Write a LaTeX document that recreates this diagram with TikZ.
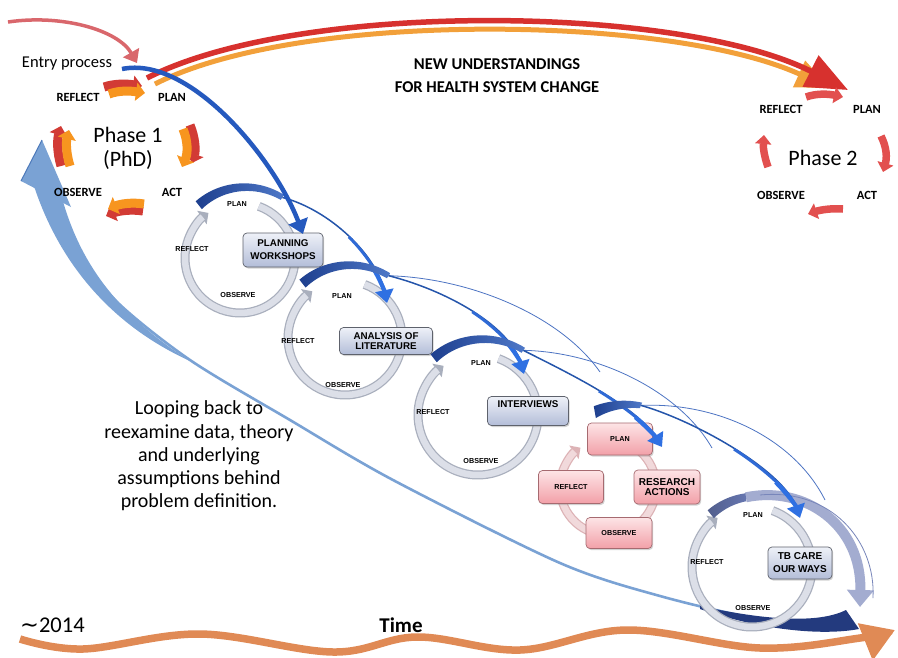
\documentclass[tikz,border=0pt]{standalone}
\usepackage{fontspec}
\setmainfont{Carlito}
\newfontfamily\lsans{Liberation Sans}
\newfontfamily\dejavu{DejaVu Sans}
\usetikzlibrary{arrows.meta,calc,shadows}
\definecolor{ringd}{HTML}{A9AFBD}
\definecolor{ringl}{HTML}{DCDFE8}
\definecolor{boxtop}{HTML}{EEF1F8}
\definecolor{boxbot}{HTML}{B3BDD8}
\definecolor{boxedge}{HTML}{5E626C}
\definecolor{ptop}{HTML}{FDE4E6}
\definecolor{pbot}{HTML}{F2A0A8}
\definecolor{pedge}{HTML}{A66A70}
\definecolor{pringd}{HTML}{DDB3B6}
\definecolor{pringl}{HTML}{F1D9DB}
\definecolor{swd}{HTML}{1E3F8E}
\definecolor{swl}{HTML}{4E78C8}
\definecolor{shaftc}{HTML}{2F6AD6}
\definecolor{thinb}{HTML}{2E5BB8}
\definecolor{headb}{HTML}{2F70E2}
\definecolor{loopb}{HTML}{7AA2D4}
\definecolor{loopd}{HTML}{4C79BA}
\definecolor{navyb}{HTML}{233A7E}
\definecolor{wavec}{HTML}{E08A55}
\definecolor{arcred}{HTML}{D7312E}
\definecolor{arcorg}{HTML}{F2A03A}
\definecolor{porg}{HTML}{F7951F}
\definecolor{pred}{HTML}{D23B35}
\definecolor{ptwored}{HTML}{E2504F}
\definecolor{entr}{HTML}{D9676C}
\definecolor{tbrib}{HTML}{A3ACD0}
\definecolor{tbsw}{HTML}{6676B0}
\definecolor{eblue}{HTML}{2559BE}

% ring of a cycle: cx cy r dark light
\newcommand\cycring[5]{%
  \draw[#4, line width=9pt, -{Triangle[length=8pt,width=16pt]}] (#1,#2) ++(-70:#3) arc[start angle=-70, end angle=235, radius=#3];
  \draw[#5, line width=6.5pt, shorten >=7pt] (#1,#2) ++(-70:#3) arc[start angle=-70, end angle=235, radius=#3];
}
% swoosh: cx cy a1 a2 ri1 ro1 ri2 ro2
\newcommand\swoosh[8]{%
  \shade[sw]
   plot[domain=#3:#4, samples=24] ({#1+(#6+(#8-#6)*(#3-\x)/(#3-#4))*cos(\x)}, {#2-(#6+(#8-#6)*(#3-\x)/(#3-#4))*sin(\x)})
   -- plot[domain=#4:#3, samples=24] ({#1+(#5+(#7-#5)*(#3-\x)/(#3-#4))*cos(\x)}, {#2-(#5+(#7-#5)*(#3-\x)/(#3-#4))*sin(\x)})
   -- cycle;
}
% tapered shaft with arrow head: A B C D
\newcommand\shaftarrow[4]{%
  \draw[shaftc!80!black, line width=1.5pt, shorten >=10pt] #1 .. controls #2 and #3 .. #4;
  \path ($#1!0.5!#2$) coordinate (q1) ($#2!0.5!#3$) coordinate (q2) ($#3!0.5!#4$) coordinate (q3);
  \path ($(q1)!0.5!(q2)$) coordinate (q4) ($(q2)!0.5!(q3)$) coordinate (q5);
  \path ($(q4)!0.5!(q5)$) coordinate (q6);
  \draw[shaftc, line width=2.8pt, shorten >=10pt] (q6) .. controls (q5) and (q3) .. #4;
  \path ($(q6)!0.5!(q5)$) coordinate (r1) ($(q5)!0.5!(q3)$) coordinate (r2) ($(q3)!0.5!#4$) coordinate (r3);
  \path ($(r1)!0.5!(r2)$) coordinate (r4) ($(r2)!0.5!(r3)$) coordinate (r5);
  \path ($(r4)!0.5!(r5)$) coordinate (r6);
  \draw[headb, line width=4.2pt, -{Triangle[length=13pt,width=18pt]}] (r6) .. controls (r5) and (r3) .. #4;
}

\begin{document}
\begin{tikzpicture}[x=1pt,y=-1pt,
  sw/.style={left color=swd, right color=swl},
  clab/.style={font=\lsans\bfseries\fontsize{7.2}{8}\selectfont, inner sep=0pt},
  plab/.style={font=\bfseries\fontsize{12.5}{14}\selectfont, inner sep=0pt},
  bbox/.style={draw=boxedge, line width=0.7pt, rounded corners=4pt, top color=boxtop, bottom color=boxbot, align=center, inner sep=0pt, font=\lsans\bfseries\fontsize{9.8}{13}\selectfont, drop shadow={shadow xshift=1.2pt, shadow yshift=-1.5pt, opacity=0.35}},
  pbox/.style={bbox, draw=pedge, top color=ptop, bottom color=pbot},
  blk/.style={line width=9pt, -{Triangle[length=9pt,width=18pt]}},
  blktwo/.style={ptwored, line width=7.5pt, -{Triangle[length=9pt,width=16pt]}},
  outerl/.style={thinb!85, line width=0.8pt},
]
\fill[white] (0,0) rectangle (898,657);
\useasboundingbox (0,0) rectangle (898,657);

% ---------- time wave
\draw[wavec, line width=7.5pt, -{Triangle[length=32pt,width=38pt]}] plot[smooth, tension=0.6] coordinates {(20,639) (83,649) (200,634) (333,652) (417,637) (520,650) (627,630) (760,648) (860,638) (895,630)};

% ---------- loop back arrow
\draw[loopb, line width=2.6pt] plot[smooth] coordinates {(46,192) (75,245) (115,300) (190,360) (290,420) (393,480) (560,563) (660,596) (760,619) (852,628)};
\fill[loopb] (34,186) .. controls (55,250) and (100,320) .. (190,361) .. controls (110,310) and (78,255) .. (62,198) -- cycle;
\fill[loopb] (42,140) -- (21,181) -- (71,207) -- cycle;
\draw[loopd, line width=1pt] (42,140) -- (21,181);
\fill[navyb] (700,606) .. controls (765,620) and (818,624) .. (846,610) -- (859,629) .. controls (822,636) and (760,630) .. (700,609) -- cycle;

% ---------- big arc to phase 2
\draw[arcorg, line width=5pt, -{Triangle[length=34pt,width=28pt]}] (155,84) .. controls (300,10) and (670,15) .. (830,88);
\draw[arcred, line width=5.5pt, -{Triangle[length=42pt,width=34pt]}] (147,78) .. controls (300,0) and (680,5) .. (848,90);

% ---------- entry arrow
\coordinate (entrystart) at (8,22);
\coordinate (entryend) at (137,63);
\draw[entr, line width=3.5pt, -{Triangle[length=12pt,width=18pt]}] (entrystart) .. controls (62,14) and (118,30) .. (entryend);

% ---------- phase 1 block arrows
\draw[blk, pred] (104,87) .. controls (116,83) and (128,84) .. (142,86);
\draw[blk, porg] (109,94) .. controls (120,90) and (131,91) .. (145,93);
\draw[blk, pred] (190,125) .. controls (195,137) and (196,150) .. (192,163);
\draw[blk, porg] (183,129) .. controls (188,141) and (188,153) .. (182,167);
\draw[blk, pred] (143,211) .. controls (131,209) and (118,211) .. (106,216);
\draw[blk, porg] (144,204) .. controls (132,202) and (120,204) .. (108,209);
\draw[blk, pred] (61,166) .. controls (57,152) and (57,140) .. (61,126);
\draw[blk, porg] (70,166) .. controls (66,153) and (66,142) .. (69,130);

% ---------- phase 2 block arrows
\draw[blktwo] (806,97) .. controls (817,93) and (829,94) .. (843,97);
\draw[blktwo] (881,136) .. controls (887,148) and (887,158) .. (883,172);
\draw[blktwo] (843,209) .. controls (832,208) and (820,210) .. (808,214);
\draw[blktwo] (768,167) .. controls (764,156) and (763,146) .. (764,135);

% ---------- rings
\cycring{240}{258}{55}{ringd}{ringl}
\cycring{345}{338}{57}{ringd}{ringl}
\cycring{478}{415}{60}{ringd}{ringl}
\cycring{608}{487}{48}{pringd}{pringl}
\cycring{752}{567}{60}{ringd}{ringl}

% ---------- boxes
\node[bbox, minimum width=80pt, minimum height=34pt] (pw) at (283,250) {PLANNING\\WORKSHOPS};
\node[bbox, minimum width=93pt, minimum height=27pt, font=\lsans\bfseries\fontsize{9.8}{10.5}\selectfont] (an) at (386,341) {ANALYSIS OF\\LITERATURE};
\node[bbox, minimum width=81pt, minimum height=29pt] (iv) at (528,411) {INTERVIEWS\vphantom{g}\\[-3pt]\strut};
\node[pbox, minimum width=65pt, minimum height=32pt, font=\lsans\bfseries\fontsize{7.2}{8}\selectfont] (rplan) at (620,439) {PLAN};
\node[pbox, minimum width=66pt, minimum height=34pt, font=\lsans\bfseries\fontsize{10}{10.5}\selectfont] (ract) at (667,487) {RESEARCH\\ACTIONS};
\node[pbox, minimum width=65pt, minimum height=33pt, font=\lsans\bfseries\fontsize{7.2}{8}\selectfont] (rrefl) at (571,487) {REFLECT};
\node[pbox, minimum width=66pt, minimum height=31pt, font=\lsans\bfseries\fontsize{7.2}{8}\selectfont] (robs) at (619,533) {OBSERVE};
\node[bbox, minimum width=64pt, minimum height=32pt, font=\lsans\bfseries\fontsize{10}{13}\selectfont] (tb) at (800,563) {TB CARE\\OUR WAYS};

% ---------- cycle labels
\node[clab] (c1p) at (237,204) {PLAN};
\node[clab] (c1r) at (192,249) {REFLECT};
\node[clab] (c1o) at (238,295) {OBSERVE};
\node[clab] (c2p) at (342,296) {PLAN};
\node[clab] (c2r) at (298,341) {REFLECT};
\node[clab] (c2o) at (343,385) {OBSERVE};
\node[clab] (c3p) at (481,363) {PLAN};
\node[clab] (c3r) at (433,412) {REFLECT};
\node[clab] (c3o) at (481,461) {OBSERVE};
\node[clab] (c5p) at (753,515) {PLAN};
\node[clab] (c5r) at (707,562) {REFLECT};
\node[clab] (c5o) at (753,608) {OBSERVE};

% ---------- connecting ribbons
\coordinate (e1) at (282.4,197.4);
\coordinate (e2) at (388.6,275.7);
\coordinate (e3) at (523.3,350.3);
\coordinate (er) at (641,405.4);
\coordinate (e5) at (745.9,497.3);
\coordinate (t1) at (387,303);
\coordinate (t2) at (524,374);
\coordinate (t3) at (662,447);
\coordinate (t4) at (800,518);
\coordinate (t5) at (860,607);

\draw[outerl] (e2) .. controls (470,278) and (560,315) .. (600,372);
\draw[outerl] (e3) .. controls (600,352) and (680,392) .. (712,448);
\draw[outerl] (er) .. controls (720,402) and (795,440) .. (825,500);

\draw[tbrib, line width=10pt, -{Triangle[length=17pt,width=26pt]}] (e5) .. controls (805,485) and (862,525) .. (t5);
\draw[tbsw!70!tbrib, line width=0.8pt] (760,495) .. controls (830,488) and (876,540) .. (873,598);

\shaftarrow{(e1)}{(330,210)}{(377,255)}{(t1)}
\shaftarrow{(e2)}{(445,290)}{(510,325)}{(t2)}
\shaftarrow{(e3)}{(566,372)}{(636,405)}{(t3)}
\shaftarrow{(er)}{(693,420)}{(784,470)}{(t4)}

\swoosh{240}{258}{128}{55}{62}{72}{71}{77}
\swoosh{345}{338}{128}{55}{64}{74}{73}{79}
\swoosh{478}{415}{128}{55}{67}{77}{76}{82}
\swoosh{608}{487}{100}{68}{70}{82}{85}{91}
\begin{scope}[sw/.style={left color=tbsw!80!black, right color=tbsw}]
\swoosh{752}{567}{128}{95}{62}{72}{66}{74}
\end{scope}

% ---------- entry blue arrow
\coordinate (bstart) at (122,69);
\coordinate (btip) at (303,234);
\draw[eblue, line width=4.5pt, -{Triangle[length=14pt,width=20pt]}] (bstart) .. controls (190,55) and (275,160) .. (btip);

% ---------- texts
\node[font=\fontsize{16.5}{19}\selectfont, inner sep=0pt] (entry) at (67,64) {Entry process};
\node[font=\bfseries\fontsize{16.5}{19}\selectfont, inner sep=0pt] (title1) at (497,64) {NEW UNDERSTANDINGS};
\node[font=\bfseries\fontsize{16.5}{19}\selectfont, inner sep=0pt] (title2) at (497,87) {FOR HEALTH SYSTEM CHANGE};

\node[plab] (p1r) at (78,97) {REFLECT};
\node[plab] (p1p) at (172,97) {PLAN};
\node[plab] (p1o) at (78,192) {OBSERVE};
\node[plab] (p1a) at (172,192) {ACT};
\node[font=\fontsize{22}{26}\selectfont, inner sep=0pt] (ph1) at (128,135) {Phase 1};
\node[font=\fontsize{22}{26}\selectfont, inner sep=0pt] (phd) at (128,160) {(PhD)};

\node[plab] (p2r) at (781,109) {REFLECT};
\node[plab] (p2p) at (867,109) {PLAN};
\node[plab] (p2o) at (781,195) {OBSERVE};
\node[plab] (p2a) at (867,195) {ACT};
\node[font=\fontsize{22}{26}\selectfont, inner sep=0pt] (ph2) at (823,158) {Phase 2};

\node[align=center, font=\fontsize{20}{23.3}\selectfont, inner sep=0pt] (loop) at (199,456) {Looping back to\\reexamine data, theory\\and underlying\\assumptions behind\\problem definition.};

\node[font=\fontsize{22.5}{26}\selectfont, anchor=base west, inner sep=0pt] (year) at (20,632) {{\dejavu ∼}2014};
\node[font=\bfseries\fontsize{21}{25}\selectfont, anchor=base, inner sep=0pt] (time) at (401,632) {Time};
\end{tikzpicture}
\end{document}
